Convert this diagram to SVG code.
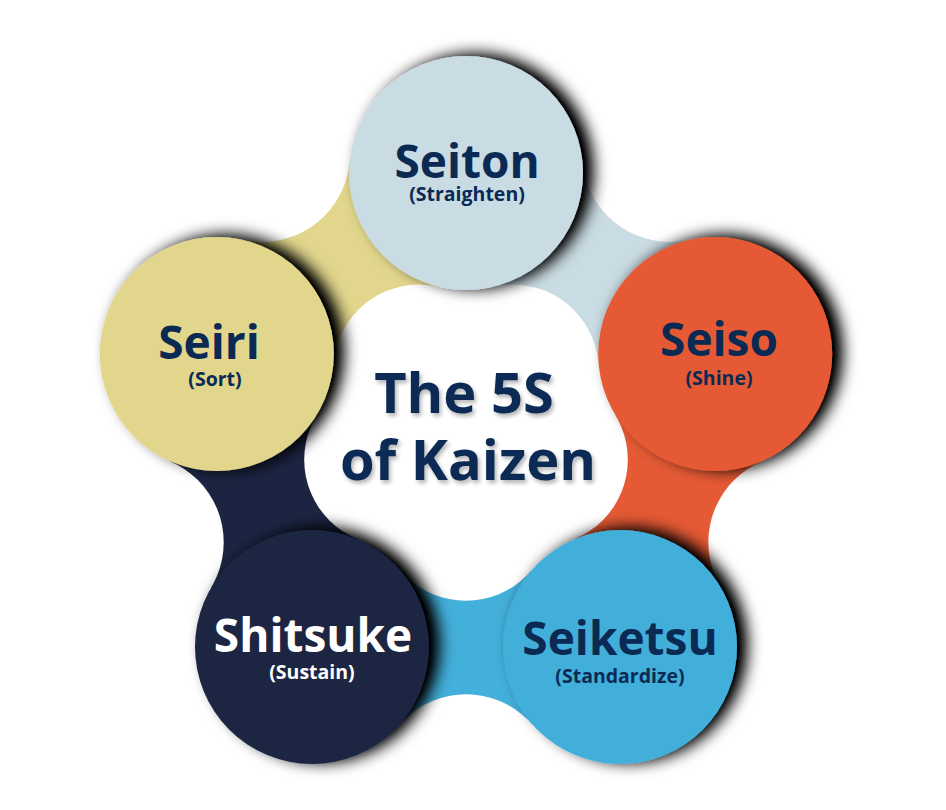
<svg xmlns="http://www.w3.org/2000/svg" width="946" height="810" viewBox="0 0 946 810">
  <style>
    .t { font-family: "Open Sans", "Liberation Sans", sans-serif; font-weight: 700; text-anchor: middle; fill: #0A2A54; }
    .main { font-size: 46px; }
    .sub { font-size: 19.5px; }
    .ctr { font-size: 56px; }
    .w { fill: #FFFFFF; }
    .cut { fill: #FFFFFF; }
  </style>
  <defs>
    <filter id="sh" x="-30%" y="-30%" width="160%" height="160%">
      <feGaussianBlur in="SourceAlpha" stdDeviation="8"/>
      <feOffset dx="10" dy="-2"/>
      <feComponentTransfer><feFuncA type="linear" slope="1.15"/></feComponentTransfer>
      <feMerge><feMergeNode/><feMergeNode in="SourceGraphic"/></feMerge>
    </filter>
    <filter id="tsh" x="-10%" y="-20%" width="120%" height="140%">
      <feGaussianBlur in="SourceAlpha" stdDeviation="2"/>
      <feOffset dx="2" dy="3"/>
      <feComponentTransfer><feFuncA type="linear" slope="0.3"/></feComponentTransfer>
      <feMerge><feMergeNode/><feMergeNode in="SourceGraphic"/></feMerge>
    </filter>
  </defs>
  <rect width="946" height="810" fill="#FFFFFF"/>

  <g id="connectors">
    <!-- Seiri -> Seiton (yellow) -->
    <polygon points="216.8,354 261.9,154 466,173 419.2,370.5" fill="#E1D68C"/>
    <!-- Seiton -> Seiso (light blue) -->
    <polygon points="466,173 670.1,154 715.2,354 512.8,370.5" fill="#C9DBE3"/>
    <!-- Seiso -> Seiketsu (orange) -->
    <polygon points="715.2,354 796.3,542.3 620,647 541.8,459.6" fill="#E55A34"/>
    <!-- Seiketsu -> Shitsuke (blue) -->
    <polygon points="620,647 466,782.3 312,647 466,514.7" fill="#43AFDB"/>
    <!-- Shitsuke -> Seiri (navy) -->
    <polygon points="312,647 135.7,542.3 216.8,354 390.2,459.6" fill="#1B2542"/>
    <!-- outer cut-outs -->
    <circle class="cut" cx="261.9" cy="154" r="88"/>
    <circle class="cut" cx="670.1" cy="154" r="88"/>
    <circle class="cut" cx="796.3" cy="542.3" r="88"/>
    <circle class="cut" cx="466" cy="782.3" r="88"/>
    <circle class="cut" cx="135.7" cy="542.3" r="88"/>
    <!-- inner cut-outs -->
    <circle class="cut" cx="419.2" cy="370.5" r="86"/>
    <circle class="cut" cx="512.8" cy="370.5" r="86"/>
    <circle class="cut" cx="541.8" cy="459.6" r="86"/>
    <circle class="cut" cx="466" cy="514.7" r="86"/>
    <circle class="cut" cx="390.2" cy="459.6" r="86"/>
  </g>

  <g id="seiri">
    <circle cx="216.8" cy="354" r="117" fill="#E1D68C" filter="url(#sh)"/>
    <text class="t main" x="209" y="359">Seiri</text>
    <text class="t sub" x="215" y="386">(Sort)</text>
  </g>
  <g id="seiton">
    <circle cx="466" cy="173" r="117" fill="#C9DBE3" filter="url(#sh)"/>
    <text class="t main" x="467" y="178">Seiton</text>
    <text class="t sub" x="467" y="201">(Straighten)</text>
  </g>
  <g id="seiso">
    <circle cx="715.2" cy="354" r="117" fill="#E55A34" filter="url(#sh)"/>
    <text class="t main" x="719" y="356">Seiso</text>
    <text class="t sub" x="719" y="385">(Shine)</text>
  </g>
  <g id="seiketsu">
    <circle cx="620" cy="647" r="117" fill="#43AFDB" filter="url(#sh)"/>
    <text class="t main" x="620" y="655">Seiketsu</text>
    <text class="t sub" x="620" y="683">(Standardize)</text>
  </g>
  <g id="shitsuke">
    <circle cx="312" cy="647" r="117" fill="#1B2542" filter="url(#sh)"/>
    <text class="t main w" x="313" y="652">Shitsuke</text>
    <text class="t sub w" x="312" y="679">(Sustain)</text>
  </g>
  <g id="center" filter="url(#tsh)">
    <text class="t ctr" x="464" y="413">The 5S</text>
    <text class="t ctr" x="468" y="480">of Kaizen</text>
  </g>
</svg>
